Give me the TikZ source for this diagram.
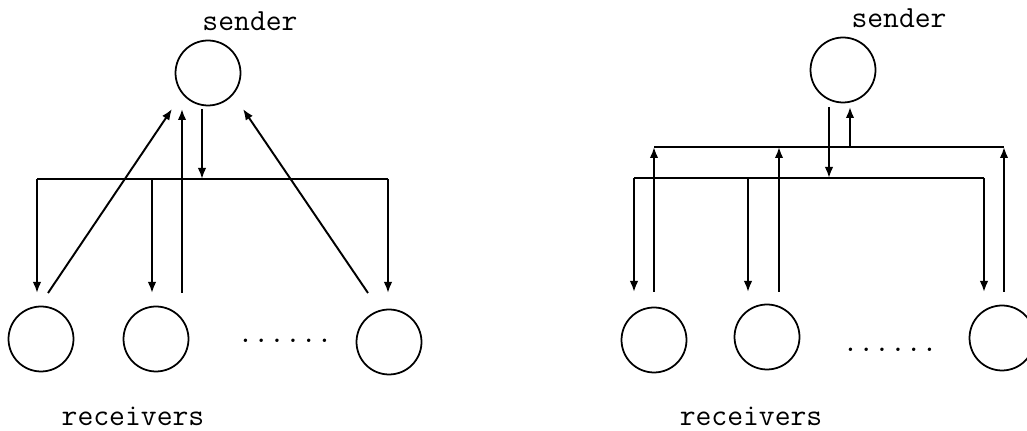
\documentclass[tikz,border=0pt]{standalone}
\usetikzlibrary{arrows.meta}

\begin{document}
\begin{tikzpicture}[x=0.02cm, y=-0.02cm, line width=1.1pt,
   >={Latex[length=2.2mm,width=1.7mm]},
   station/.style={draw, circle, minimum size=1.3cm, inner sep=0pt, line width=1pt},
   caption/.style={font=\ttfamily\fontsize{17.5}{20}\selectfont, inner sep=0pt}]
   \useasboundingbox (0,0) rectangle (1027,431);
   % point to point feedback
   \node[station] (sL) at (208,73) {};
   \node[caption] (sLtext) at (250,21) {sender};
   \node[station] (rL1) at (41,339) {};
   \node[station] (rL2) at (156,339) {};
   \node[station] (rL3) at (389,342) {};
   \node[caption] (dotsL) at (285,341) {......};
   \node[caption] (rLtext) at (133,416) {receivers};
   \coordinate (ltop) at (0,109);
   \coordinate (lbot) at (0,293);
   \coordinate (lw) at (37,179);
   \coordinate (l2) at (152,179);
   \coordinate (lm) at (202,179);
   \coordinate (le) at (388,179);
   \draw (lw) -- (le);
   \draw[->] (lm |- ltop) -- (lm);
   \foreach \c in {lw,l2,le}
      \draw[->] (\c) -- (\c |- lbot);
   \coordinate (lu1) at (48,293);
   \coordinate (lu2) at (182,293);
   \coordinate (lu3) at (368,293);
   \draw[->] (lu1) -- (172,109);
   \draw[->] (lu2) -- (lu2 |- ltop);
   \draw[->] (lu3) -- (243,109);
   % feedback over a shared channel
   \node[station] (sR) at (843,70) {};
   \node[caption] (sRtext) at (899,18) {sender};
   \node[station] (rR1) at (654,340) {};
   \node[station] (rR2) at (767,337) {};
   \node[station] (rR3) at (1002,338) {};
   \node[caption] (dotsR) at (890,350) {......};
   \node[caption] (rRtext) at (751,416) {receivers};
   \coordinate (rtop) at (0,107);
   \coordinate (rbot) at (0,292);
   \coordinate (dw) at (634,178);
   \coordinate (d2) at (748,178);
   \coordinate (dm) at (829,178);
   \coordinate (de) at (984,178);
   \coordinate (uw) at (654,147);
   \coordinate (u2) at (779,147);
   \coordinate (um) at (850,147);
   \coordinate (ue) at (1004,147);
   \draw (dw) -- (de);
   \draw (uw) -- (ue);
   \draw[->] (dm |- rtop) -- (dm);
   \draw[->] (um) -- (um |- rtop);
   \foreach \c in {dw,d2,de}
      \draw[->] (\c) -- (\c |- rbot);
   \foreach \c in {uw,u2,ue}
      \draw[->] (\c |- rbot) -- (\c);
\end{tikzpicture}
\end{document}
